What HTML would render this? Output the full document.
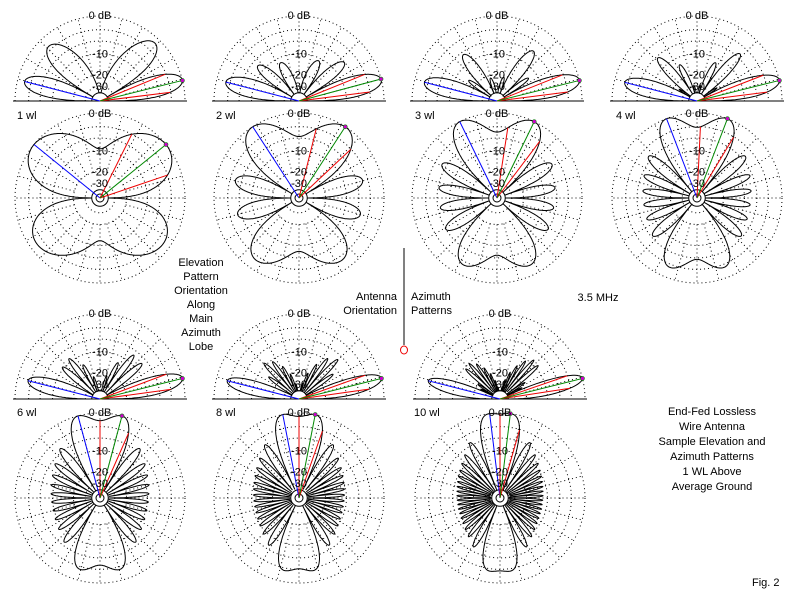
<!DOCTYPE html>
<html><head><meta charset="utf-8"><style>
html,body{margin:0;padding:0;background:#fff}
svg{display:block}
text{font-family:"Liberation Sans",sans-serif;font-size:11px;fill:#000}
</style></head><body>
<svg id="s" width="800" height="600" viewBox="0 0 800 600" xmlns="http://www.w3.org/2000/svg">
<rect width="800" height="600" fill="#fff"/>
<g id="plots"></g>
<g text-anchor="middle">
<text x="100" y="19">0 dB</text><text x="299" y="19">0 dB</text><text x="497" y="19">0 dB</text><text x="697" y="19">0 dB</text>
<text x="100" y="117">0 dB</text><text x="299" y="117">0 dB</text><text x="497" y="117">0 dB</text><text x="697" y="117">0 dB</text>
<text x="100" y="317">0 dB</text><text x="299" y="317">0 dB</text><text x="500" y="317">0 dB</text>
<text x="100" y="416">0 dB</text><text x="299" y="416">0 dB</text><text x="500" y="416">0 dB</text>
<g id="dbl"></g>
<text x="201" y="266">Elevation</text><text x="201" y="280">Pattern</text><text x="201" y="294">Orientation</text>
<text x="201" y="308">Along</text><text x="201" y="322">Main</text><text x="201" y="336">Azimuth</text><text x="201" y="350">Lobe</text>
<text x="598" y="301">3.5 MHz</text>
<text x="712" y="415">End-Fed Lossless</text><text x="712" y="430">Wire Antenna</text>
<text x="712" y="445">Sample Elevation and</text><text x="712" y="460">Azimuth Patterns</text>
<text x="712" y="475">1 WL Above</text><text x="712" y="490">Average Ground</text>
</g>
<text x="397" y="300" text-anchor="end">Antenna</text><text x="397" y="314" text-anchor="end">Orientation</text>
<text x="411" y="300">Azimuth</text><text x="411" y="314">Patterns</text>
<text x="752" y="586">Fig. 2</text>
<text x="17" y="119">1 wl</text><text x="216" y="119">2 wl</text><text x="415" y="119">3 wl</text><text x="616" y="119">4 wl</text>
<text x="17" y="416">6 wl</text><text x="216" y="416">8 wl</text><text x="414" y="416">10 wl</text>
<line x1="404" y1="248" x2="404" y2="345" stroke="#000"/>
<ellipse cx="404" cy="350" rx="3.5" ry="4" fill="none" stroke="#e00"/>
</svg>
<script>
(function(){
var NS="http://www.w3.org/2000/svg",g=document.getElementById('plots');
function el(n,a){var e=document.createElementNS(NS,n);for(var k in a)e.setAttribute(k,a[k]);g.appendChild(e);return e;}
var R=85;
function rad(db){if(db<-40)db=-40;return R*Math.pow(0.89,-db/2);}
var K=2*Math.PI,H=1;
function field(L,dx,dy,dz){
 if(dz<0)return 0;
 var u=dy,N=Math.max(40,Math.round(L*30)),re=0,im=0;
 for(var i=0;i<N;i++){var z=(i+0.5)/N*L;
  var a1=-K*z,a2=K*(z-2*L);
  var Ir=Math.cos(a1)-0.75*Math.cos(a2),Ii=Math.sin(a1)-0.75*Math.sin(a2);
  var ph=K*z*u,c=Math.cos(ph),s=Math.sin(ph);
  re+=Ir*c-Ii*s;im+=Ir*s+Ii*c;}
 var sp=Math.sqrt(Math.max(0,1-u*u));
 return sp*Math.sqrt(re*re+im*im)*Math.abs(Math.sin(K*H*dz));
}
function grid(cx,cy,half){
 var dbs=[0,-3,-6,-10,-20,-30];
 dbs.forEach(function(d){var r=rad(d);
  if(half)el('path',{d:'M'+(cx-r)+' '+cy+' A'+r+' '+r+' 0 0 1 '+(cx+r)+' '+cy,fill:'none',stroke:'#000','stroke-dasharray':'1 3'});
  else el('circle',{cx:cx,cy:cy,r:r,fill:'none',stroke:'#000','stroke-dasharray':'1 3'});});
 var r0=rad(-20);
 for(var a=0;a<360;a+=15){if(half&&a>180)break;var t=a*Math.PI/180;
  el('line',{x1:cx+r0*Math.cos(t),y1:cy-r0*Math.sin(t),x2:cx+R*Math.cos(t),y2:cy-R*Math.sin(t),stroke:'#000','stroke-dasharray':'1 3'});}
 if(half){el('line',{x1:cx-R-2,y1:cy,x2:cx+R+2,y2:cy,stroke:'#000'});
  el('path',{d:'M'+(cx-rad(-40))+' '+cy+' A'+rad(-40)+' '+rad(-40)+' 0 0 1 '+(cx+rad(-40))+' '+cy,fill:'none',stroke:'#000'});}
 else{el('circle',{cx:cx,cy:cy,r:rad(-40),fill:'none',stroke:'#000'});el('circle',{cx:cx,cy:cy,r:4,fill:'none',stroke:'#000'});}
}
function line(cx,cy,x,y,c){el('line',{x1:cx,y1:cy,x2:x,y2:y,stroke:c});}
function plot(L,cx,cyE,cyA){
 var best=0,bd=10,bp=30;
 for(var d=1;d<=25;d+=1)for(var p=0;p<=180;p+=1){var D=d*Math.PI/180,P=p*Math.PI/180;
  var f=field(L,Math.sin(P)*Math.cos(D),Math.cos(P)*Math.cos(D),Math.sin(D));if(f>best){best=f;bd=d;bp=p;}}
 var D0=bd*Math.PI/180,P0=bp*Math.PI/180;
 // global max for normalization in elevation plane & azimuth
 var gm=best;
 for(var i=0;i<=360;i++){var a=i/720*Math.PI*2;var f=field(L,Math.cos(a)*Math.sin(P0),Math.cos(a)*Math.cos(P0),Math.sin(a));if(f>gm)gm=f;}
 function db(f){return 20*Math.log10(Math.max(f/gm,1e-3));}
 grid(cx,cyE,true);grid(cx,cyA,false);
 var pts=[],ev=[];
 for(var i=0;i<=720;i++){var a=i/720*Math.PI;
  var f=field(L,Math.cos(a)*Math.sin(P0),Math.cos(a)*Math.cos(P0),Math.sin(a));var v=db(f);ev.push(v);
  var r=rad(v);pts.push((cx+r*Math.cos(a)).toFixed(1)+','+(cyE-r*Math.sin(a)).toFixed(1));}
 el('polyline',{points:pts.join(' '),fill:'none',stroke:'#000'});
 pts=[];var av=[];
 for(var i=0;i<=1440;i++){var p=i/1440*2*Math.PI;
  var f=field(L,Math.sin(p)*Math.cos(D0),Math.cos(p)*Math.cos(D0),Math.sin(D0));var v=db(f);av.push(v);
  var r=rad(v);pts.push((cx+r*Math.sin(p)).toFixed(1)+','+(cyA-r*Math.cos(p)).toFixed(1));}
 el('polyline',{points:pts.join(' '),fill:'none',stroke:'#000'});
 var im=Math.round(bd/180*720),lo=im,hi=im;
 while(lo>0&&ev[lo]>ev[im]-3)lo--;while(hi<360&&ev[hi]>ev[im]-3)hi++;
 var bl=360,bv=-99;for(var i=600;i<=720;i++)if(ev[i]>bv){bv=ev[i];bl=i;}
 function ep(i,c){var a=i/720*Math.PI,r=rad(ev[i]);line(cx,cyE,cx+r*Math.cos(a),cyE-r*Math.sin(a),c);return [cx+r*Math.cos(a),cyE-r*Math.sin(a)];}
 ep(bl,'#00f');ep(lo,'#e00');ep(hi,'#e00');var m=ep(im,'#080');
 el('circle',{cx:m[0],cy:m[1],r:2,fill:'#c0c',stroke:'#080','stroke-width':0.6});
 var jm=Math.round(bp/360*1440);lo=jm;hi=jm;
 while(lo>0&&av[lo]>av[jm]-3)lo--;while(hi<720&&av[hi]>av[jm]-3)hi++;
 function ap(i,c){var p=i/1440*2*Math.PI,r=rad(av[i]);var x=cx+r*Math.sin(p),y=cyA-r*Math.cos(p);line(cx,cyA,x,y,c);return [x,y];}
 ap(1440-jm,'#00f');ap(lo,'#e00');ap(hi,'#e00');m=ap(jm,'#080');
 el('circle',{cx:m[0],cy:m[1],r:2,fill:'#c0c',stroke:'#080','stroke-width':0.6});
}
var P=[[1,100,101,198],[2,299,101,198],[3,497,101,198],[4,697,101,198],[6,100,399,498],[8,299,399,498],[10,500,399,498]];
P.forEach(function(q){plot(q[0],q[1],q[2],q[3]);});
var dl=document.getElementById('dbl');
P.forEach(function(q){[[-10,'-10'],[-20,'-20'],[-30,'-30']].forEach(function(t){
 [q[2],q[3]].forEach(function(cy){var e=document.createElementNS(NS,'text');e.setAttribute('x',q[1]);e.setAttribute('y',cy-rad(t[0])+4);e.textContent=t[1];dl.appendChild(e);});});});
})();
</script>
</body></html>
